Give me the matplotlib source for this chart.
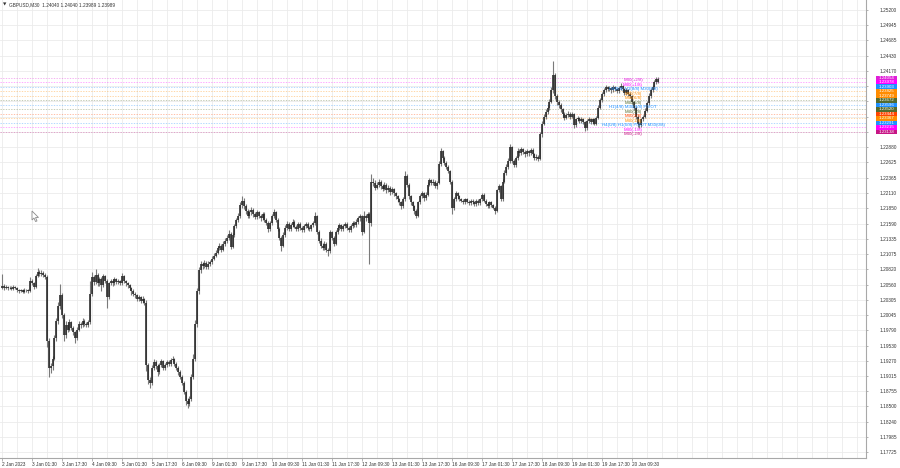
import matplotlib
matplotlib.use("Agg")
import matplotlib.pyplot as plt
import matplotlib.transforms as mtransforms
from matplotlib.patches import Rectangle, Polygon
import numpy as np

plt.rcParams['font.family'] = ['Liberation Sans', 'DejaVu Sans']

# ---------------- data (GBPUSD, hourly resolution) ----------------
symbol_title = "GBPUSD,M30  1.24040 1.24040 1.23989 1.23989"
first_open = 1.2050

closes = [
    1.2054,1.2050,1.2052,1.2050,1.2051,1.2049,1.2052,1.2050,1.2047,1.2045,1.2046,1.2044,
    1.2047,1.2046,1.2045,1.2062,1.2058,1.2052,1.2070,1.2078,1.2074,1.2076,1.2072,1.2068,
    1.1960,1.1915,1.1918,1.1930,1.1965,1.1995,1.2020,1.2038,1.2005,1.1970,1.1988,1.1980,
    1.1992,1.1983,1.1975,1.1965,1.1980,1.1990,1.1987,1.1995,1.1990,1.1988,1.1992,1.2040,
    1.2068,1.2060,1.2072,1.2058,1.2065,1.2055,1.2070,1.2062,1.2035,1.2058,1.2062,1.2058,
    1.2065,1.2060,1.2062,1.2058,1.2070,1.2062,1.2058,1.2055,1.2050,1.2045,1.2040,1.2038,
    1.2032,1.2035,1.2028,1.2032,1.2025,1.1920,1.1895,1.1890,1.1915,1.1925,1.1918,1.1908,
    1.1920,1.1926,1.1915,1.1920,1.1925,1.1922,1.1928,1.1930,1.1922,1.1915,1.1908,1.1900,
    1.1890,1.1875,1.1860,1.1855,1.1862,1.1900,1.1930,1.1990,1.2045,1.2080,1.2090,1.2088,
    1.2092,1.2086,1.2090,1.2094,1.2100,1.2105,1.2110,1.2118,1.2122,1.2115,1.2125,1.2130,
    1.2135,1.2142,1.2120,1.2140,1.2155,1.2165,1.2172,1.2190,1.2198,1.2188,1.2180,1.2172,
    1.2178,1.2182,1.2175,1.2170,1.2178,1.2172,1.2168,1.2175,1.2165,1.2160,1.2150,1.2160,
    1.2172,1.2178,1.2165,1.2150,1.2135,1.2122,1.2140,1.2152,1.2158,1.2150,1.2156,1.2162,
    1.2154,1.2150,1.2158,1.2152,1.2148,1.2155,1.2158,1.2152,1.2150,1.2156,1.2160,1.2172,
    1.2145,1.2130,1.2122,1.2118,1.2125,1.2115,1.2112,1.2145,1.2135,1.2125,1.2145,1.2152,
    1.2156,1.2150,1.2155,1.2158,1.2152,1.2148,1.2155,1.2160,1.2156,1.2162,1.2168,1.2172,
    1.2145,1.2172,1.2168,1.2175,1.2160,1.2230,1.2228,1.2220,1.2225,1.2230,1.2222,1.2218,
    1.2225,1.2215,1.2220,1.2212,1.2218,1.2210,1.2205,1.2200,1.2195,1.2188,1.2200,1.2240,
    1.2225,1.2205,1.2195,1.2188,1.2180,1.2172,1.2195,1.2205,1.2210,1.2202,1.2208,1.2225,
    1.2232,1.2228,1.2230,1.2222,1.2228,1.2260,1.2282,1.2270,1.2262,1.2255,1.2248,1.2230,
    1.2185,1.2200,1.2210,1.2205,1.2200,1.2198,1.2195,1.2200,1.2196,1.2193,1.2198,1.2195,
    1.2192,1.2198,1.2194,1.2200,1.2208,1.2198,1.2192,1.2188,1.2195,1.2190,1.2186,1.2180,
    1.2215,1.2222,1.2200,1.2230,1.2245,1.2255,1.2265,1.2288,1.2265,1.2258,1.2270,1.2282,
    1.2278,1.2285,1.2280,1.2276,1.2282,1.2278,1.2284,1.2276,1.2270,1.2272,1.2268,1.2310,
    1.2328,1.2340,1.2348,1.2355,1.2365,1.2385,1.2410,1.2375,1.2365,1.2360,1.2352,1.2345,
    1.2338,1.2342,1.2345,1.2340,1.2344,1.2325,1.2335,1.2338,1.2332,1.2336,1.2330,1.2320,
    1.2332,1.2336,1.2330,1.2335,1.2328,1.2338,1.2355,1.2368,1.2378,1.2385,1.2390,1.2386,
    1.2388,1.2384,1.2390,1.2386,1.2383,1.2388,1.2392,1.2386,1.2380,1.2385,1.2378,1.2375,
    1.2365,1.2355,1.2340,1.2328,1.2325,1.2335,1.2340,1.2350,1.2362,1.2375,1.2385,1.2390,
    1.2398,1.2404,1.2399,
]

highs = [
    1.2074,1.2057,1.2055,1.2054,1.2054,1.2053,1.2055,1.2054,1.2052,1.2049,1.2049,1.2048,
    1.2050,1.2049,1.2048,1.2068,1.2065,1.2060,1.2074,1.2084,1.2081,1.2080,1.2079,1.2075,
    1.2072,1.1965,1.1924,1.1936,1.1970,1.2000,1.2026,1.2057,1.2042,1.2008,1.1994,1.1992,
    1.1997,1.1995,1.1986,1.1978,1.1984,1.1994,1.1993,1.1999,1.1998,1.1993,1.1996,1.2062,
    1.2078,1.2072,1.2082,1.2075,1.2069,1.2068,1.2074,1.2073,1.2065,1.2061,1.2066,1.2065,
    1.2068,1.2067,1.2065,1.2064,1.2076,1.2072,1.2064,1.2061,1.2057,1.2052,1.2048,1.2043,
    1.2040,1.2038,1.2037,1.2036,1.2034,1.2030,1.1924,1.1900,1.1920,1.1930,1.1928,1.1921,
    1.1924,1.1930,1.1928,1.1924,1.1929,1.1928,1.1932,1.1935,1.1932,1.1925,1.1918,1.1911,
    1.1903,1.1893,1.1878,1.1864,1.1868,1.1905,1.1938,1.1996,1.2050,1.2086,1.2096,1.2094,
    1.2097,1.2095,1.2095,1.2098,1.2104,1.2109,1.2114,1.2122,1.2126,1.2125,1.2129,1.2134,
    1.2140,1.2148,1.2144,1.2143,1.2159,1.2169,1.2177,1.2195,1.2205,1.2202,1.2192,1.2184,
    1.2182,1.2187,1.2185,1.2178,1.2182,1.2181,1.2175,1.2179,1.2178,1.2168,1.2163,1.2164,
    1.2176,1.2183,1.2180,1.2168,1.2153,1.2138,1.2144,1.2156,1.2163,1.2161,1.2160,1.2166,
    1.2165,1.2157,1.2162,1.2161,1.2155,1.2158,1.2162,1.2161,1.2155,1.2159,1.2164,1.2178,
    1.2174,1.2148,1.2134,1.2126,1.2129,1.2128,1.2118,1.2148,1.2147,1.2138,1.2149,1.2156,
    1.2160,1.2159,1.2158,1.2162,1.2161,1.2155,1.2158,1.2164,1.2163,1.2166,1.2172,1.2175,
    1.2174,1.2180,1.2176,1.2179,1.2178,1.2243,1.2236,1.2232,1.2229,1.2234,1.2233,1.2226,
    1.2229,1.2228,1.2224,1.2223,1.2221,1.2220,1.2213,1.2208,1.2203,1.2198,1.2204,1.2248,
    1.2243,1.2228,1.2208,1.2198,1.2191,1.2183,1.2198,1.2209,1.2214,1.2212,1.2212,1.2229,
    1.2236,1.2235,1.2234,1.2232,1.2231,1.2265,1.2287,1.2284,1.2273,1.2265,1.2258,1.2250,
    1.2232,1.2204,1.2214,1.2213,1.2208,1.2203,1.2201,1.2203,1.2202,1.2199,1.2201,1.2200,
    1.2198,1.2201,1.2200,1.2203,1.2210,1.2210,1.2200,1.2195,1.2198,1.2197,1.2192,1.2188,
    1.2218,1.2226,1.2224,1.2234,1.2249,1.2259,1.2270,1.2294,1.2290,1.2268,1.2274,1.2286,
    1.2285,1.2289,1.2287,1.2283,1.2285,1.2284,1.2287,1.2286,1.2278,1.2276,1.2275,1.2314,
    1.2332,1.2344,1.2352,1.2359,1.2370,1.2390,1.2434,1.2414,1.2378,1.2368,1.2363,1.2355,
    1.2348,1.2346,1.2349,1.2348,1.2347,1.2346,1.2338,1.2341,1.2340,1.2339,1.2338,1.2332,
    1.2335,1.2339,1.2338,1.2338,1.2337,1.2341,1.2359,1.2372,1.2382,1.2389,1.2394,1.2392,
    1.2391,1.2390,1.2393,1.2392,1.2389,1.2391,1.2396,1.2394,1.2388,1.2388,1.2387,1.2381,
    1.2377,1.2367,1.2357,1.2342,1.2331,1.2338,1.2343,1.2354,1.2366,1.2379,1.2389,1.2394,
    1.2402,1.2407,1.2407,
]

lows = [
    1.2048,1.2047,1.2048,1.2047,1.2048,1.2046,1.2047,1.2048,1.2044,1.2042,1.2043,1.2041,
    1.2042,1.2043,1.2042,1.2044,1.2055,1.2048,1.2050,1.2068,1.2071,1.2070,1.2069,1.2065,
    1.1950,1.1900,1.1906,1.1912,1.1928,1.1960,1.1990,1.2015,1.2000,1.1961,1.1966,1.1976,
    1.1977,1.1979,1.1971,1.1958,1.1962,1.1977,1.1983,1.1984,1.1986,1.1984,1.1985,1.1990,
    1.2036,1.2056,1.2057,1.2054,1.2053,1.2045,1.2052,1.2058,1.2017,1.2032,1.2055,1.2054,
    1.2055,1.2057,1.2057,1.2055,1.2056,1.2059,1.2054,1.2051,1.2046,1.2038,1.2036,1.2034,
    1.2028,1.2029,1.2024,1.2025,1.2021,1.1910,1.1888,1.1882,1.1887,1.1912,1.1914,1.1902,
    1.1905,1.1917,1.1912,1.1911,1.1917,1.1918,1.1919,1.1925,1.1918,1.1911,1.1904,1.1896,
    1.1886,1.1871,1.1852,1.1848,1.1850,1.1860,1.1897,1.1926,1.1985,1.2040,1.2076,1.2083,
    1.2084,1.2082,1.2083,1.2087,1.2091,1.2097,1.2102,1.2107,1.2114,1.2111,1.2112,1.2122,
    1.2127,1.2132,1.2116,1.2118,1.2137,1.2151,1.2161,1.2169,1.2186,1.2184,1.2176,1.2168,
    1.2169,1.2174,1.2171,1.2166,1.2167,1.2168,1.2164,1.2165,1.2162,1.2156,1.2145,1.2147,
    1.2157,1.2169,1.2161,1.2146,1.2131,1.2112,1.2119,1.2137,1.2149,1.2146,1.2147,1.2153,
    1.2151,1.2146,1.2147,1.2149,1.2145,1.2145,1.2152,1.2149,1.2147,1.2147,1.2153,1.2157,
    1.2141,1.2126,1.2118,1.2114,1.2115,1.2111,1.2105,1.2110,1.2131,1.2122,1.2123,1.2142,
    1.2149,1.2147,1.2147,1.2152,1.2149,1.2145,1.2145,1.2152,1.2153,1.2153,1.2159,1.2164,
    1.2140,1.2143,1.2164,1.2165,1.2091,1.2155,1.2222,1.2216,1.2217,1.2221,1.2218,1.2214,
    1.2215,1.2211,1.2212,1.2208,1.2209,1.2206,1.2201,1.2196,1.2190,1.2184,1.2186,1.2198,
    1.2221,1.2201,1.2191,1.2184,1.2176,1.2169,1.2170,1.2192,1.2202,1.2198,1.2199,1.2205,
    1.2222,1.2224,1.2225,1.2219,1.2218,1.2226,1.2257,1.2266,1.2258,1.2251,1.2244,1.2226,
    1.2176,1.2182,1.2197,1.2201,1.2197,1.2195,1.2192,1.2192,1.2193,1.2190,1.2190,1.2192,
    1.2189,1.2189,1.2191,1.2191,1.2197,1.2195,1.2189,1.2185,1.2185,1.2187,1.2183,1.2176,
    1.2178,1.2212,1.2197,1.2198,1.2227,1.2241,1.2252,1.2262,1.2261,1.2254,1.2255,1.2267,
    1.2274,1.2275,1.2276,1.2272,1.2273,1.2274,1.2275,1.2272,1.2266,1.2267,1.2264,1.2266,
    1.2306,1.2325,1.2336,1.2344,1.2351,1.2362,1.2380,1.2370,1.2360,1.2355,1.2348,1.2340,
    1.2334,1.2335,1.2339,1.2336,1.2337,1.2321,1.2323,1.2332,1.2329,1.2329,1.2327,1.2316,
    1.2318,1.2329,1.2327,1.2327,1.2325,1.2326,1.2336,1.2352,1.2365,1.2375,1.2382,1.2383,
    1.2383,1.2380,1.2382,1.2383,1.2380,1.2380,1.2385,1.2383,1.2377,1.2377,1.2374,1.2371,
    1.2361,1.2351,1.2336,1.2323,1.2320,1.2322,1.2332,1.2337,1.2347,1.2359,1.2372,1.2382,
    1.2387,1.2395,1.2397,
]

time_labels = ["2 Jan 2023", "3 Jan 01:30", "3 Jan 17:30", "4 Jan 09:30", "5 Jan 01:30",
               "5 Jan 17:30", "6 Jan 09:30", "9 Jan 01:30", "9 Jan 17:30", "10 Jan 09:30",
               "11 Jan 01:30", "11 Jan 17:30", "12 Jan 09:30", "13 Jan 01:30", "13 Jan 17:30",
               "16 Jan 09:30", "17 Jan 01:30", "17 Jan 17:30", "18 Jan 09:30", "19 Jan 01:30",
               "19 Jan 17:30", "20 Jan 09:30"]

price_ticks = [1.17725, 1.17985, 1.18240, 1.18500, 1.18755, 1.19015, 1.19270, 1.19530,
               1.19790, 1.20045, 1.20305, 1.20560, 1.20820, 1.21075, 1.21335, 1.21590,
               1.21850, 1.22110, 1.22365, 1.22625, 1.22880, 1.23140, 1.23395, 1.23655,
               1.23910, 1.24170, 1.24430, 1.24685, 1.24945, 1.25200]
hidden_ticks = [1.23140, 1.23395, 1.23655, 1.23910]

mm_levels = [1.24054, 1.23978, 1.23903, 1.23825, 1.23749, 1.23672, 1.23596,
             1.23520, 1.23444, 1.23367, 1.23291, 1.23215, 1.23138]
mm_labels = ["M30(+2/8)", "M30(+1/8)", "H4(8/8) H1(8/8) M30(8/8)", "M30(7/8)", "M30(6/8)",
             "M30(5/8)", "H1(4/8) M30(4/8) PIVOT", "M30(3/8)", "M30(2/8)", "M30(1/8)",
             "H4(0/8) H1(0/8) PIVOT M30(0/8)", "M30(-1/8)", "M30(-2/8)"]
mm_colors = ['#e01ed8', '#ff00ff', '#1e90ff', '#ff8c00', '#ff8c00', '#556b2f', '#1e90ff',
             '#556b2f', '#ff4500', '#ff8c00', '#1e90ff', '#ff00ff', '#c71585']

# ---------------- layout ----------------
W, H = 900, 468
fig = plt.figure(figsize=(W / 100, H / 100), dpi=100)
fig.patch.set_facecolor('white')
PL, PR, PT, PB = 0, 866, 0, 458
ax = fig.add_axes([PL / W, 1 - PB / H, (PR - PL) / W, (PB - PT) / H])
ax.set_facecolor('white')

PX_PER_BAR = 1.875          # horizontal pixels per hourly bar
X0 = 2                      # pixel of first bar
ax.set_xlim((PL - X0) / PX_PER_BAR, (PR - X0) / PX_PER_BAR)
ax.set_ylim(1.17629, 1.25369)

n = len(closes)
xs = np.arange(n)
opens = [first_open] + closes[:-1]

# grid
for k in range(0, 470, 8):
    ax.axvline(k, color='#ebebeb', lw=0.6, zorder=0)
for p in price_ticks:
    ax.axhline(p, color='#ebebeb', lw=0.6, zorder=0)

# Murrey math levels
for lv, lab, col in zip(mm_levels, mm_labels, mm_colors):
    ax.axhline(lv, color=col, lw=0.6, alpha=0.4, dashes=(1.6, 1.6), zorder=1)

# candles
ax.vlines(xs, lows, highs, colors='#7a7a7a', lw=0.8, zorder=2)
bot = np.minimum(opens, closes)
top = np.maximum(opens, closes)
ax.vlines(xs, bot, top, colors='#262626', lw=1.15, zorder=3)

# level labels on the chart
lab_x = (633 - X0) / PX_PER_BAR
for lv, lab, col in zip(mm_levels, mm_labels, mm_colors):
    ax.text(lab_x, lv - 0.00004, lab, color=col, fontsize=3.2, ha='center', va='top', zorder=5)

# axes styling
for s in ['left', 'top']:
    ax.spines[s].set_visible(False)
for s in ['right', 'bottom']:
    ax.spines[s].set_color('#a8a8a8')
    ax.spines[s].set_linewidth(0.8)

ax.yaxis.tick_right()
ax.set_yticks(price_ticks)
ax.set_yticklabels(['' if p in hidden_ticks else f"{p:.5f}" for p in price_ticks])
ax.tick_params(axis='y', direction='out', length=1.5, width=0.6, color='#a8a8a8',
               pad=8, labelsize=3.4, labelcolor='#333333')

ax.set_xticks([16 * k for k in range(len(time_labels))])
ax.set_xticklabels(time_labels)
ax.tick_params(axis='x', direction='out', length=2, width=0.6, color='#a8a8a8',
               pad=1.0, labelsize=3.4, labelcolor='#333333')
for t in ax.get_xticklabels():
    t.set_horizontalalignment('left')

# price tags on the right scale
blend = mtransforms.blended_transform_factory(ax.transAxes, ax.transData)
tx0 = (876 - PL) / (PR - PL)
tw = 21 / (PR - PL)
for lv, col in zip(mm_levels, mm_colors):
    ax.add_patch(Rectangle((tx0, lv - 0.00039), tw, 0.00078, transform=blend,
                           facecolor=col, edgecolor='none', clip_on=False, zorder=6))
    ax.text(tx0 + tw / 2, lv, f"{lv:.5f}", transform=blend, color='white', fontsize=3.2,
            ha='center', va='center', clip_on=False, zorder=7)

# title
fig.text(3 / W, 1 - 4.5 / H, "\u25bc", fontsize=3.2, color='#333333', va='center',
         family=['DejaVu Sans'])
fig.text(9 / W, 1 - 4.5 / H, symbol_title, fontsize=3.4, color='#333333', va='center')

# mouse cursor
cur = [(0, 0), (0, 9), (2, 7), (3.5, 10.5), (5, 10), (3.5, 6.5), (6.5, 6.5)]
cx, cy = 32, 211
fig.patches.append(Polygon([((cx + a) / W, 1 - (cy + b) / H) for a, b in cur], closed=True,
                           transform=fig.transFigure, facecolor='white', edgecolor='#8a8a8a',
                           lw=0.6, zorder=10))

fig.savefig('out.png', dpi=100, facecolor='white')
